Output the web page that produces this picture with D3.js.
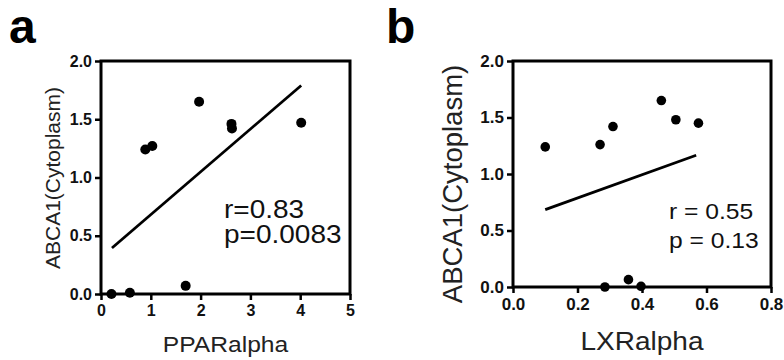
<!DOCTYPE html>
<html>
<head>
<meta charset="utf-8">
<script src="https://cdn.jsdelivr.net/npm/d3@7"></script>
<style>
	body { margin: 0; background: #fff; }
	svg { display: block; font-family: "Liberation Sans", Arial, sans-serif; }
</style>
</head>
<body>
<svg id="chart" width="784" height="360"></svg>
<script>
// panel a: PPARalpha vs ABCA1
var pparAlpha = [0.21, 0.58, 0.89, 1.03, 1.70, 1.97, 2.62, 2.63, 4.02];
var abcaA = [0.0, 0.01, 1.24, 1.27, 0.07, 1.65, 1.46, 1.42, 1.47];
var fitA = [[0.22, 0.395], [4.02, 1.79]];
var xTicksA = [0, 1, 2, 3, 4, 5];

// panel b: LXRalpha vs ABCA1
var lxrAlpha = [0.10, 0.27, 0.31, 0.46, 0.505, 0.575, 0.285, 0.358, 0.397];
var abcaB = [1.24, 1.26, 1.42, 1.65, 1.48, 1.45, 0.0, 0.065, 0.006];
var fitB = [[0.10, 0.685], [0.568, 1.166]];
var xTicksB = [0.0, 0.2, 0.4, 0.6, 0.8];

var yTicks = [0.0, 0.5, 1.0, 1.5, 2.0];

var svg = d3.select("#chart");

function panel(opts) {
	var x = d3.scaleLinear().domain(opts.xDomain).range([opts.left, opts.right]);
	var y = d3.scaleLinear().domain([0, 2]).range([opts.bottom, opts.top]);
	var g = svg.append("g");

	var yAxis = g.append("g")
		.attr("transform", "translate(" + opts.left + ",0)")
		.call(d3.axisLeft(y).tickValues(yTicks).tickFormat(d3.format(".1f")).tickSize(6).tickPadding(3));
	var xAxis = g.append("g")
		.attr("transform", "translate(0," + opts.bottom + ")")
		.call(d3.axisBottom(x).tickValues(opts.xTicks).tickFormat(opts.xFormat).tickSize(6).tickPadding(opts.xPad));

	[yAxis, xAxis].forEach(function(ax) {
		ax.select(".domain").remove();
		ax.selectAll(".tick line").attr("stroke", "#000").attr("stroke-width", 2.5);
		ax.selectAll(".tick text")
			.attr("fill", "#111")
			.style("font-family", opts.tickFont)
			.style("font-weight", "bold")
			.style("font-size", opts.tickSize + "px");
	});

	// frame
	g.append("rect")
		.attr("x", opts.left)
		.attr("y", opts.top)
		.attr("width", opts.right - opts.left)
		.attr("height", opts.bottom - opts.top)
		.attr("fill", "none")
		.attr("stroke", "#000")
		.attr("stroke-width", 3);

	// regression line
	g.append("path")
		.attr("d", d3.line().x(function(d) { return x(d[0]); }).y(function(d) { return y(d[1]); })(opts.fit))
		.attr("stroke", "#000")
		.attr("stroke-width", 2.8)
		.attr("fill", "none");

	g.selectAll("circle.pt")
		.data(opts.xs)
		.enter()
		.append("circle")
		.attr("class", "pt")
		.attr("cx", function(d) { return x(d); })
		.attr("cy", function(d, i) { return y(opts.ys[i]); })
		.attr("r", opts.r)
		.attr("fill", "#000");

	// stats
	opts.stats.forEach(function(s, i) {
		g.append("text")
			.attr("transform", "translate(" + opts.statX + "," + (opts.statY + i * opts.statGap) + ") scale(1.12,1)")
			.style("font-size", opts.statSize + "px")
			.attr("fill", "#111")
			.text(s);
	});

	// axis titles
	g.append("text")
		.attr("transform", "translate(" + ((opts.left + opts.right) / 2) + "," + opts.xLabelY + ") scale(1.12,1)")
		.attr("text-anchor", "middle")
		.style("font-size", opts.xLabelSize + "px")
		.attr("fill", "#222")
		.text(opts.xLabel);

	g.append("text")
		.attr("transform", "translate(" + opts.yLabelX + "," + opts.yLabelY + ") rotate(-90)")
		.attr("text-anchor", "middle")
		.style("font-size", opts.yLabelSize + "px")
		.attr("fill", "#222")
		.text("ABCA1(Cytoplasm)");

	svg.append("text")
		.attr("x", opts.letterX)
		.attr("y", 43)
		.style("font-size", "48px")
		.style("font-weight", "bold")
		.attr("fill", "#000")
		.text(opts.letter);
}

panel({
	letter: "a", letterX: 9,
	left: 101, right: 350, top: 61, bottom: 294,
	xDomain: [0, 5], xTicks: xTicksA, xFormat: d3.format("d"), xPad: 5,
	tickFont: "'Liberation Sans', Arial, sans-serif", tickSize: 16,
	xs: pparAlpha, ys: abcaA, fit: fitA, r: 5,
	stats: ["r=0.83", "p=0.0083"], statX: 224, statY: 218, statGap: 25, statSize: 25,
	xLabel: "PPARalpha", xLabelY: 352, xLabelSize: 22,
	yLabelX: 60, yLabelY: 178, yLabelSize: 21
});

panel({
	letter: "b", letterX: 386,
	left: 513, right: 771, top: 61, bottom: 287,
	xDomain: [0, 0.8], xTicks: xTicksB, xFormat: d3.format(".1f"), xPad: 5,
	tickFont: "'Liberation Sans Narrow', 'Liberation Sans', sans-serif", tickSize: 17,
	xs: lxrAlpha, ys: abcaB, fit: fitB, r: 4.8,
	stats: ["r = 0.55", "p = 0.13"], statX: 669, statY: 219, statGap: 29, statSize: 22,
	xLabel: "LXRalpha", xLabelY: 350, xLabelSize: 25,
	yLabelX: 462, yLabelY: 184, yLabelSize: 27.5
});
</script>
</body>
</html>
